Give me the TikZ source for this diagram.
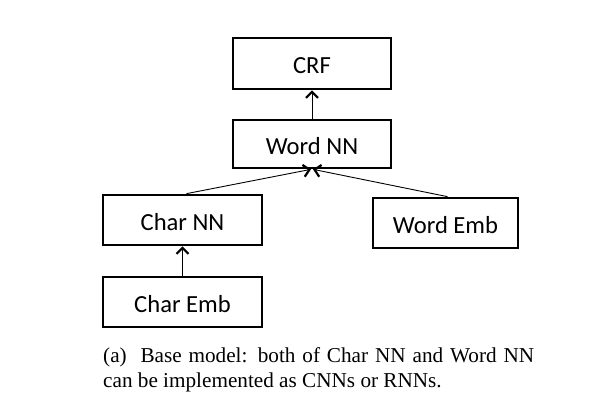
\documentclass[tikz,border=0pt]{standalone}
\usepackage{fontspec}
\setmainfont{Liberation Serif}
\newfontfamily\boxfont{Carlito}
\usetikzlibrary{arrows.meta}
\begin{document}
\begin{tikzpicture}[x=1pt,y=-1pt,
  blk/.style={draw,line width=2.7pt,inner sep=0pt,text height=24.8pt,text depth=4pt,font=\boxfont\fontsize{24.6}{29}\selectfont},
  conn/.style={line width=0.9pt,-{Straight Barb[line width=2.2pt,length=6pt,width=12pt]}}]
\useasboundingbox (0,0) rectangle (592,406);
\node[blk,minimum width=158pt,minimum height=51pt] (crf) at (312,63.5) {CRF};
\node[blk,minimum width=158pt,minimum height=48pt] (wordnn) at (312,144) {Word NN};
\node[blk,minimum width=159pt,minimum height=50pt] (charnn) at (182.5,220) {Char NN};
\node[blk,minimum width=145pt,minimum height=50pt] (wordemb) at (445.5,223) {Word Emb};
\node[blk,minimum width=159pt,minimum height=50pt] (charemb) at (182.5,302) {Char Emb};
\draw[conn] (charemb.north) -- (charnn.south);
\draw[conn] ([xshift=4pt]charnn.north) -- ([xshift=-1pt]wordnn.south);
\draw[conn] ([xshift=2pt]wordemb.north) -- ([xshift=1pt]wordnn.south);
\draw[conn] (wordnn.north) -- (crf.south);
\node[anchor=base west,inner sep=0pt,text width=431pt,align=justify,
  font=\fontsize{21.2}{25}\selectfont] (cap) at (103,362)
  {(a)\ \ Base model: both of Char NN and Word NN\linebreak can be implemented as CNNs or RNNs.};
\end{tikzpicture}
\end{document}
